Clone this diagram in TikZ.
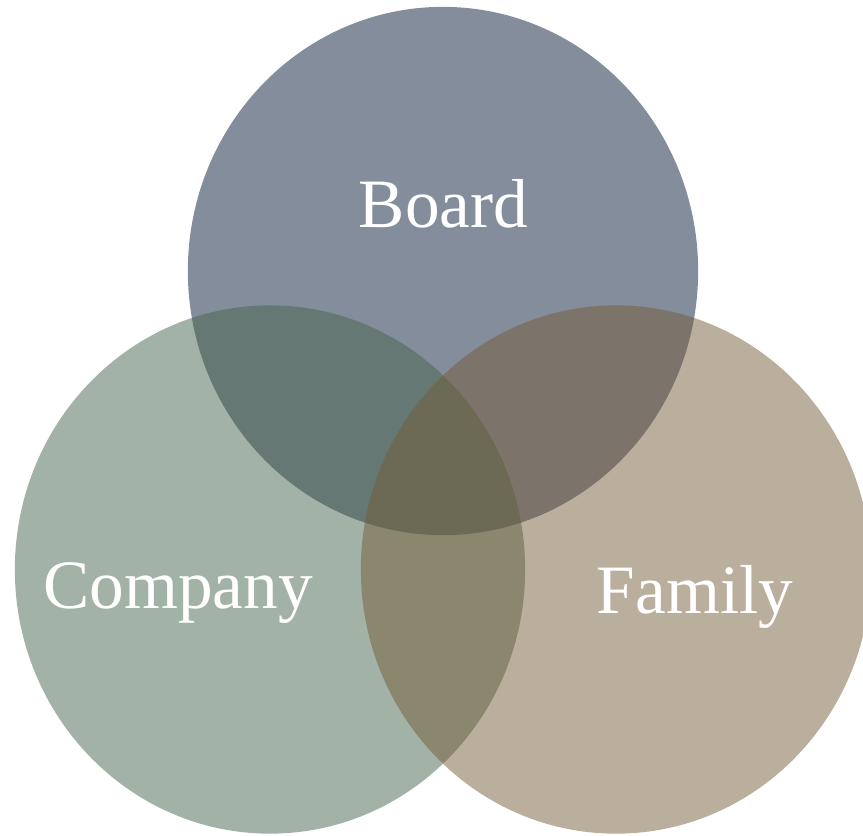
\documentclass[tikz,border=0pt]{standalone}
\usepackage{fontspec}
\setmainfont{Liberation Serif}
\usetikzlibrary{shapes.geometric}

\definecolor{boardcol}{HTML}{091B39}
\definecolor{companycol}{HTML}{47654D}
\definecolor{familycol}{HTML}{755D39}

\begin{document}
\begin{tikzpicture}[x=0.01cm, y=-0.01cm,
  venn/.style={ellipse, minimum width=5.1cm, minimum height=5.28cm, inner sep=0pt, fill opacity=0.5},
  venntext/.style={text=white, font=\fontsize{19.7}{24}\selectfont, anchor=base}]
  \useasboundingbox (0,0) rectangle (863,835);
  % circles
  \node[venn, fill=boardcol] (board) at (443,271) {};
  \node[venn, fill=companycol] (company) at (270,569.5) {};
  \node[venn, fill=familycol] (family) at (616,569.5) {};
  % labels
  \node[venntext] (boardlabel) at (443.5,227) {Board};
  \node[venntext] (companylabel) at (178,608) {Company};
  \node[venntext] (familylabel) at (695,613) {Family};
\end{tikzpicture}
\end{document}
